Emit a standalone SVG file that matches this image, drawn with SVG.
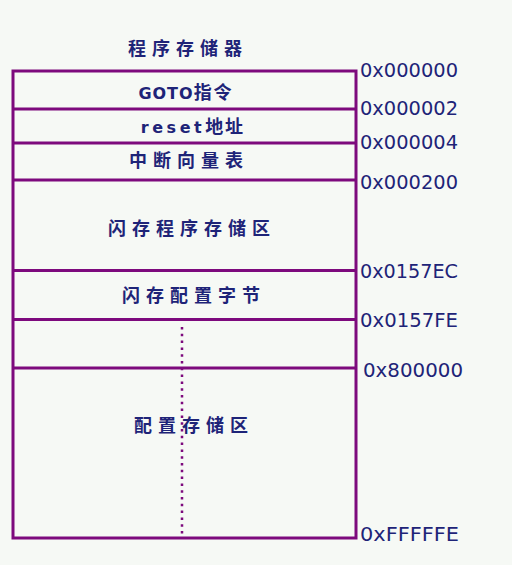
<svg xmlns="http://www.w3.org/2000/svg" width="512" height="565" viewBox="0 0 512 565">
<style>
.bg{fill:#f6f9f5}
.box{fill:none;stroke:#7d0a7d;stroke-width:3}
.ln{stroke:#7d0a7d;stroke-width:3}
.dot{stroke:#7d0a7d;stroke-width:2.5;stroke-dasharray:2.5 4.3}
.cn{font-family:"Noto Sans CJK SC","Noto Sans",sans-serif;font-size:18px;font-weight:bold;fill:#1e2478;text-anchor:middle;letter-spacing:6px}
.en{font-family:"DejaVu Sans","Noto Sans CJK SC",sans-serif;font-size:16px;font-weight:bold;fill:#1e2478;text-anchor:middle;letter-spacing:1px}
.addr{font-family:"DejaVu Sans",sans-serif;font-size:20px;fill:#1e2478}
</style>
<rect class="bg" x="0" y="0" width="512" height="565"/>
<text class="cn" x="188" y="55">程序存储器</text>
<g id="memory">
<rect class="box" x="13" y="71" width="343" height="467"/>
</g>
<g id="connectors">
<line class="ln" x1="13" y1="109" x2="356" y2="109"/>
<line class="ln" x1="13" y1="143" x2="356" y2="143"/>
<line class="ln" x1="13" y1="180" x2="356" y2="180"/>
<line class="ln" x1="13" y1="270.5" x2="356" y2="270.5"/>
<line class="ln" x1="13" y1="319.5" x2="356" y2="319.5"/>
<line class="ln" x1="13" y1="368" x2="356" y2="368"/>
<line class="dot" x1="182" y1="327" x2="182" y2="536"/>
</g>
<g id="goto"><text class="en" x="186" y="99">GOTO<tspan style="font-family:'Noto Sans CJK SC',sans-serif;font-size:18px;letter-spacing:2px">指令</tspan></text></g>
<g id="reset"><text class="en" x="193" y="133" style="letter-spacing:3.5px">reset<tspan style="font-family:'Noto Sans CJK SC',sans-serif;font-size:18px;letter-spacing:2px">地址</tspan></text></g>
<g id="ivt"><text class="cn" x="189" y="167">中断向量表</text></g>
<g id="flash"><text class="cn" x="192" y="235">闪存程序存储区</text></g>
<g id="cfgbytes"><text class="cn" x="194" y="302">闪存配置字节</text></g>
<g id="cfgmem"><text class="cn" x="194" y="432">配置存储区</text></g>
<g id="addresses">
<text class="addr" x="360" y="77" textLength="98" lengthAdjust="spacingAndGlyphs">0x000000</text>
<text class="addr" x="360" y="115" textLength="98" lengthAdjust="spacingAndGlyphs">0x000002</text>
<text class="addr" x="360" y="149" textLength="98" lengthAdjust="spacingAndGlyphs">0x000004</text>
<text class="addr" x="360" y="189" textLength="98" lengthAdjust="spacingAndGlyphs">0x000200</text>
<text class="addr" x="360" y="278" textLength="98" lengthAdjust="spacingAndGlyphs">0x0157EC</text>
<text class="addr" x="360" y="327" textLength="98" lengthAdjust="spacingAndGlyphs">0x0157FE</text>
<text class="addr" x="363" y="377" textLength="100" lengthAdjust="spacingAndGlyphs">0x800000</text>
<text class="addr" x="360" y="541" textLength="99" lengthAdjust="spacingAndGlyphs">0xFFFFFE</text>
</g>
</svg>
